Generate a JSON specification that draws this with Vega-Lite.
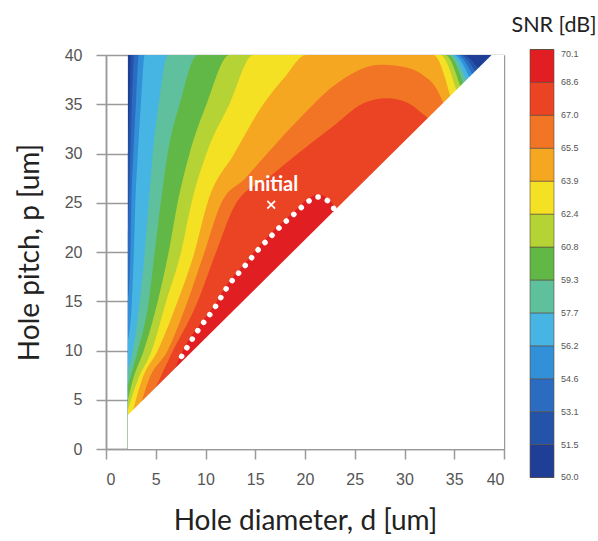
{
  "$schema": "https://vega.github.io/schema/vega-lite/v6.json",
  "width": 398,
  "height": 394,
  "autosize": {"type": "none"},
  "padding": {"left": 106, "top": 55, "right": 94, "bottom": 92},
  "background": "white",
  "config": {
    "view": {"stroke": null},
    "axis": {
      "zindex": 1,
      "grid": true,
      "gridColor": "#9a9a9a",
      "gridWidth": 1.5,
      "domainColor": "#9a9a9a",
      "domainWidth": 1.5,
      "tickColor": "#9a9a9a",
      "tickWidth": 1.5,
      "tickSize": 10,
      "labelFont": "Liberation Sans",
      "labelFontSize": 16,
      "labelColor": "#555555",
      "titleFont": "Lato",
      "titleFontSize": 28,
      "titleFontWeight": "normal",
      "titleColor": "#222222"
    },
    "area": {"interpolate": "monotone", "clip": true}
  },
  "datasets": {
    "contours": [
      {"snr": 50.8, "d": 2.2, "p": 40}, {"snr": 50.8, "d": 38.75, "p": 40},

      {"snr": 52.3, "d": 2.2, "p": 30}, {"snr": 52.3, "d": 2.3, "p": 33}, {"snr": 52.3, "d": 2.4, "p": 36}, {"snr": 52.3, "d": 2.5, "p": 40}, {"snr": 52.3, "d": 35.9, "p": 40}, {"snr": 52.3, "d": 37.4, "p": 38.65},

      {"snr": 53.9, "d": 2.2, "p": 22}, {"snr": 53.9, "d": 2.3, "p": 25}, {"snr": 53.9, "d": 2.45, "p": 30}, {"snr": 53.9, "d": 2.6, "p": 35}, {"snr": 53.9, "d": 2.85, "p": 40}, {"snr": 53.9, "d": 35.6, "p": 40}, {"snr": 53.9, "d": 37.1, "p": 38.35},

      {"snr": 55.4, "d": 2.2, "p": 15}, {"snr": 55.4, "d": 2.45, "p": 20}, {"snr": 55.4, "d": 2.55, "p": 25}, {"snr": 55.4, "d": 2.75, "p": 30}, {"snr": 55.4, "d": 3.0, "p": 35}, {"snr": 55.4, "d": 3.3, "p": 40}, {"snr": 55.4, "d": 35.3, "p": 40}, {"snr": 55.4, "d": 36.8, "p": 38.05},

      {"snr": 57.0, "d": 2.2, "p": 11}, {"snr": 57.0, "d": 2.6, "p": 15}, {"snr": 57.0, "d": 2.8, "p": 20}, {"snr": 57.0, "d": 2.95, "p": 25}, {"snr": 57.0, "d": 3.2, "p": 30}, {"snr": 57.0, "d": 3.5, "p": 35}, {"snr": 57.0, "d": 3.9, "p": 40}, {"snr": 57.0, "d": 35.0, "p": 40}, {"snr": 57.0, "d": 36.5, "p": 37.75},

      {"snr": 58.5, "d": 2.2, "p": 8}, {"snr": 58.5, "d": 2.7, "p": 10}, {"snr": 58.5, "d": 3.4, "p": 15}, {"snr": 58.5, "d": 3.9, "p": 20}, {"snr": 58.5, "d": 4.3, "p": 25}, {"snr": 58.5, "d": 4.7, "p": 30}, {"snr": 58.5, "d": 5.3, "p": 35}, {"snr": 58.5, "d": 6.2, "p": 40}, {"snr": 58.5, "d": 34.7, "p": 40}, {"snr": 58.5, "d": 36.2, "p": 37.45},

      {"snr": 60.1, "d": 2.2, "p": 6.5}, {"snr": 60.1, "d": 3.2, "p": 10}, {"snr": 60.1, "d": 4.3, "p": 15}, {"snr": 60.1, "d": 4.9, "p": 20}, {"snr": 60.1, "d": 5.5, "p": 25}, {"snr": 60.1, "d": 6.2, "p": 30}, {"snr": 60.1, "d": 7.4, "p": 35}, {"snr": 60.1, "d": 9.2, "p": 40}, {"snr": 60.1, "d": 34.4, "p": 40}, {"snr": 60.1, "d": 35.9, "p": 37.15},

      {"snr": 61.6, "d": 2.2, "p": 5}, {"snr": 61.6, "d": 2.7, "p": 7}, {"snr": 61.6, "d": 3.8, "p": 10}, {"snr": 61.6, "d": 5.2, "p": 15}, {"snr": 61.6, "d": 6.3, "p": 20}, {"snr": 61.6, "d": 7.2, "p": 25}, {"snr": 61.6, "d": 8.4, "p": 30}, {"snr": 61.6, "d": 10.1, "p": 35}, {"snr": 61.6, "d": 12.4, "p": 40}, {"snr": 61.6, "d": 34.1, "p": 40}, {"snr": 61.6, "d": 35.6, "p": 36.85},

      {"snr": 63.2, "d": 2.2, "p": 4.0}, {"snr": 63.2, "d": 3.2, "p": 7}, {"snr": 63.2, "d": 4.6, "p": 10}, {"snr": 63.2, "d": 6.05, "p": 15}, {"snr": 63.2, "d": 7.55, "p": 20}, {"snr": 63.2, "d": 8.6, "p": 25}, {"snr": 63.2, "d": 10.1, "p": 30}, {"snr": 63.2, "d": 12.4, "p": 35}, {"snr": 63.2, "d": 14.8, "p": 40}, {"snr": 63.2, "d": 33.6, "p": 40}, {"snr": 63.2, "d": 35.2, "p": 36.45},

      {"snr": 64.7, "d": 2.75, "p": 4.0}, {"snr": 64.7, "d": 3.6, "p": 7}, {"snr": 64.7, "d": 5.2, "p": 10}, {"snr": 64.7, "d": 7.2, "p": 15}, {"snr": 64.7, "d": 8.9, "p": 20}, {"snr": 64.7, "d": 10.2, "p": 25}, {"snr": 64.7, "d": 12.9, "p": 30}, {"snr": 64.7, "d": 15.8, "p": 35}, {"snr": 64.7, "d": 18.0, "p": 37.8}, {"snr": 64.7, "d": 20.1, "p": 40}, {"snr": 64.7, "d": 32.9, "p": 40}, {"snr": 64.7, "d": 34.6, "p": 35.85},

      {"snr": 66.3, "d": 3.6, "p": 4.85}, {"snr": 66.3, "d": 4.3, "p": 7}, {"snr": 66.3, "d": 6.2, "p": 10}, {"snr": 66.3, "d": 8.2, "p": 15}, {"snr": 66.3, "d": 9.9, "p": 20}, {"snr": 66.3, "d": 11.6, "p": 25}, {"snr": 66.3, "d": 14.0, "p": 27.5}, {"snr": 66.3, "d": 16.2, "p": 30}, {"snr": 66.3, "d": 19.5, "p": 33.6}, {"snr": 66.3, "d": 22.8, "p": 36.8}, {"snr": 66.3, "d": 25.1, "p": 38.3}, {"snr": 66.3, "d": 27.5, "p": 39.0}, {"snr": 66.3, "d": 29.8, "p": 38.8}, {"snr": 66.3, "d": 31.8, "p": 38.0}, {"snr": 66.3, "d": 33.2, "p": 36.6}, {"snr": 66.3, "d": 33.9, "p": 35.15},

      {"snr": 67.8, "d": 5.0, "p": 6.25}, {"snr": 67.8, "d": 6.5, "p": 9.5}, {"snr": 67.8, "d": 9.23, "p": 15}, {"snr": 67.8, "d": 11.07, "p": 20}, {"snr": 67.8, "d": 13.1, "p": 25}, {"snr": 67.8, "d": 16.5, "p": 27.7}, {"snr": 67.8, "d": 19.3, "p": 30}, {"snr": 67.8, "d": 22.8, "p": 32.75}, {"snr": 67.8, "d": 26.1, "p": 35.2}, {"snr": 67.8, "d": 28.2, "p": 35.6}, {"snr": 67.8, "d": 30.2, "p": 35.2}, {"snr": 67.8, "d": 31.5, "p": 34.3}, {"snr": 67.8, "d": 32.35, "p": 33.6},

      {"snr": 69.3, "d": 7.0, "p": 8.25}, {"snr": 69.3, "d": 7.72, "p": 10.0}, {"snr": 69.3, "d": 9.4, "p": 12.6}, {"snr": 69.3, "d": 10.9, "p": 14.6}, {"snr": 69.3, "d": 12.24, "p": 16.8}, {"snr": 69.3, "d": 13.92, "p": 18.8}, {"snr": 69.3, "d": 15.6, "p": 20.85}, {"snr": 69.3, "d": 17.27, "p": 22.6}, {"snr": 69.3, "d": 19.21, "p": 24.4}, {"snr": 69.3, "d": 20.12, "p": 25.25}, {"snr": 69.3, "d": 21.29, "p": 25.85}, {"snr": 69.3, "d": 22.36, "p": 25.4}, {"snr": 69.3, "d": 23.1, "p": 24.35}
    ],
    "edge": [
      {"d": 2.2, "p": 3.45}, {"d": 38.75, "p": 40}, {"d": 40, "p": 40}
    ],
    "dots": [
      {"d": 7.6, "p": 9.4}, {"d": 9.4, "p": 12.28}, {"d": 10.9, "p": 14.31}, {"d": 12.24, "p": 16.51}, {"d": 13.92, "p": 18.54}, {"d": 15.6, "p": 20.57}, {"d": 16.43, "p": 21.42}, {"d": 17.27, "p": 22.33}, {"d": 18.27, "p": 23.28}, {"d": 19.21, "p": 24.12}, {"d": 20.12, "p": 24.97}, {"d": 21.29, "p": 25.58}, {"d": 22.36, "p": 25.14}, {"d": 22.9, "p": 24.4}
    ],
    "marker": [{"d": 16.6, "p": 24.8}],
    "label": [{"d": 16.8, "p": 26.8, "text": "Initial"}]
  },
  "layer": [
    {
      "data": {"name": "contours"},
      "encoding": {
        "x": {
          "field": "d", "type": "quantitative",
          "scale": {"domain": [0, 40], "nice": false},
          "axis": {"values": [0, 5, 10, 15, 20, 25, 30, 35, 40], "title": "Hole diameter, d [um]", "labelPadding": 12, "titlePadding": 20}
        },
        "y": {
          "field": "p", "type": "quantitative", "stack": null,
          "scale": {"domain": [0, 40], "nice": false},
          "axis": {"values": [0, 5, 10, 15, 20, 25, 30, 35, 40], "title": "Hole pitch, p [um]", "labelPadding": 14, "titlePadding": 20}
        },
        "y2": {"datum": 0},
        "color": {
          "field": "snr", "type": "quantitative",
          "scale": {
            "type": "quantize", "domain": [50.0, 70.1], "nice": false, "zero": false,
            "range": ["#1f3f97", "#2354aa", "#2b6cc0", "#3290d8", "#47b5e4", "#5ec09c", "#62b846", "#b5d334", "#f5e123", "#f5a722", "#f17524", "#ea4424", "#e11f22"]
          },
          "legend": {
            "title": "SNR [dB]",
            "type": "gradient",
            "orient": "none",
            "legendX": 405,
            "legendY": -40,
            "direction": "vertical",
            "gradientLength": 428,
            "gradientThickness": 24,
            "gradientStrokeColor": "#5a4a3a",
            "gradientStrokeWidth": 0.6,
            "values": [50.0, 50.0001, 51.5472, 53.0933, 54.6395, 56.1856, 57.7318, 59.2779, 60.8241, 62.3702, 63.9164, 65.4625, 67.0087, 68.5548, 70.1],
            "format": ".1f",
            "labelOverlap": false,
            "labelFont": "Liberation Sans",
            "labelFontSize": 9,
            "labelColor": "#555555",
            "labelOffset": 7,
            "titleFont": "Lato",
            "titleFontSize": 21.5,
            "titleFontWeight": "normal",
            "titleColor": "#222222",
            "titleAnchor": "middle",
            "titlePadding": 13
          }
        }
      },
      "layer": [
        {"transform": [{"filter": "datum.snr == 50.8"}], "mark": "area"},
        {"transform": [{"filter": "datum.snr == 52.3"}], "mark": "area"},
        {"transform": [{"filter": "datum.snr == 53.9"}], "mark": "area"},
        {"transform": [{"filter": "datum.snr == 55.4"}], "mark": "area"},
        {"transform": [{"filter": "datum.snr == 57.0"}], "mark": "area"},
        {"transform": [{"filter": "datum.snr == 58.5"}], "mark": "area"},
        {"transform": [{"filter": "datum.snr == 60.1"}], "mark": "area"},
        {"transform": [{"filter": "datum.snr == 61.6"}], "mark": "area"},
        {"transform": [{"filter": "datum.snr == 63.2"}], "mark": "area"},
        {"transform": [{"filter": "datum.snr == 64.7"}], "mark": "area"},
        {"transform": [{"filter": "datum.snr == 66.3"}], "mark": "area"},
        {"transform": [{"filter": "datum.snr == 67.8"}], "mark": "area"},
        {"transform": [{"filter": "datum.snr == 69.3"}], "mark": "area"}
      ]
    },
    {
      "data": {"name": "edge"},
      "mark": {"type": "area", "color": "white", "interpolate": "linear", "clip": true},
      "encoding": {
        "x": {"field": "d", "type": "quantitative"},
        "y": {"field": "p", "type": "quantitative"},
        "y2": {"datum": 0}
      }
    },
    {
      "data": {"name": "dots"},
      "mark": {"type": "line", "color": "white", "strokeWidth": 5.5, "strokeDash": [0.1, 10], "strokeCap": "round", "interpolate": "monotone"},
      "encoding": {
        "x": {"field": "d", "type": "quantitative"},
        "y": {"field": "p", "type": "quantitative"}
      }
    },
    {
      "data": {"name": "marker"},
      "mark": {"type": "point", "shape": "M-1,-1L1,1M1,-1L-1,1", "stroke": "white", "strokeWidth": 1.8, "size": 60, "filled": false, "opacity": 1},
      "encoding": {
        "x": {"field": "d", "type": "quantitative"},
        "y": {"field": "p", "type": "quantitative"}
      }
    },
    {
      "data": {"name": "label"},
      "mark": {"type": "text", "color": "white", "font": "Lato", "fontSize": 20, "fontWeight": "bold", "baseline": "middle", "align": "center"},
      "encoding": {
        "x": {"field": "d", "type": "quantitative"},
        "y": {"field": "p", "type": "quantitative"},
        "text": {"field": "text"}
      }
    }
  ]
}
